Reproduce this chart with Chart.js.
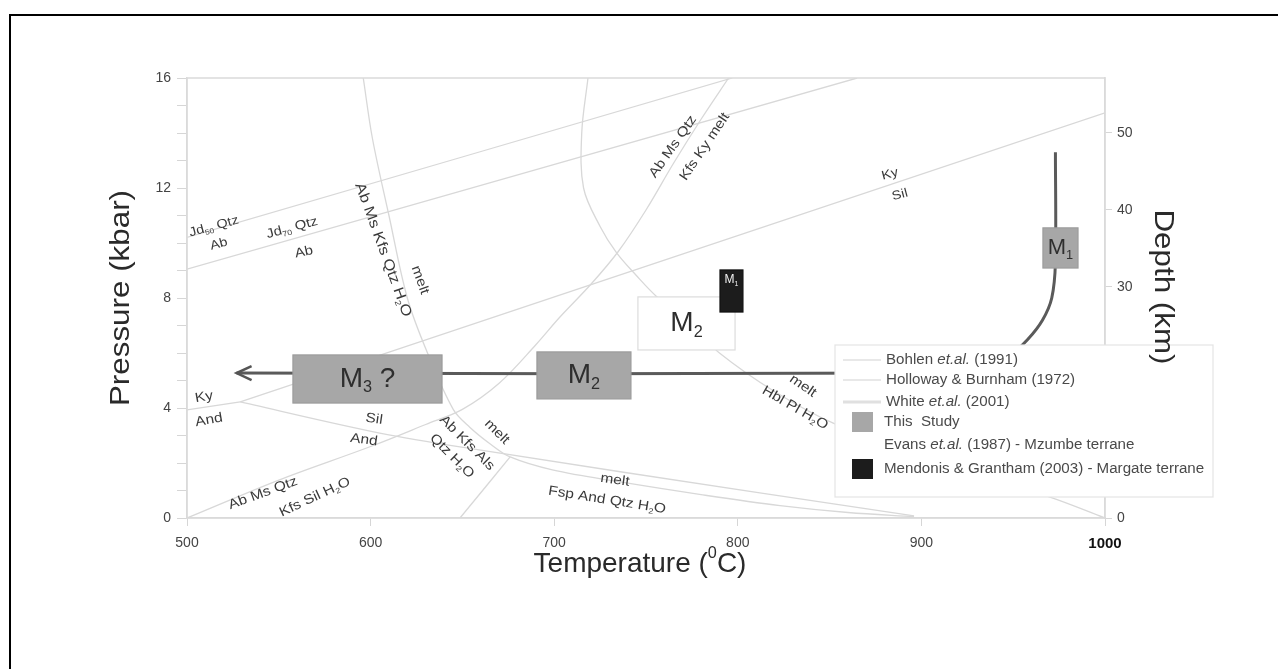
<!DOCTYPE html>
<html>
<head>
<meta charset="utf-8">
<title>P-T path</title>
<script src="https://cdn.jsdelivr.net/npm/chart.js@4.4.1/dist/chart.umd.min.js"></script>
<style>
  html, body { margin: 0; padding: 0; background: #fff; overflow: hidden; }
  canvas { display: block; }
</style>
</head>
<body>
<canvas id="ptChart" width="1278" height="669"></canvas>
<script>
//// axes
let tempTicks = [500, 600, 700, 800, 900, 1000];
let pressureTicks = [0, 1, 2, 3, 4, 5, 6, 7, 8, 9, 10, 11, 12, 13, 14, 15, 16];
let pressureLabels = [0, 4, 8, 12, 16];
let depthTicks = [0, 10, 20, 30, 40, 50];
let kmPerKbar = 3.571;

//// reaction curves (T in C, P in kbar)
let jd50T = [500, 797];
let jd50P = [10.2, 16];
let jd70T = [500, 865];
let jd70P = [9.05, 16];
let kyAndT = [500, 529];
let kyAndP = [3.93, 4.22];
let kySilT = [529, 1000];
let kySilP = [4.22, 14.73];
let silAndT = [529, 605, 660, 812, 896];
let silAndP = [4.22, 3.09, 2.47, 0.91, 0.08];
let meltT = [596, 601, 610, 620, 631, 645, 654, 665, 676, 699, 736, 780, 823, 860, 896];
let meltP = [16, 13.8, 11.0, 8.0, 6.0, 3.95, 3.3, 2.7, 2.22, 1.75, 1.31, 0.85, 0.45, 0.2, 0.05];
let muscT = [500, 550, 600, 630, 650, 670, 690, 703, 720, 735, 750, 765, 780, 795];
let muscP = [0, 1.38, 2.6, 3.4, 3.95, 4.9, 6.3, 7.3, 8.5, 9.7, 11.2, 12.9, 14.5, 16];
let alsMeltT = [648.7, 676];
let alsMeltP = [0, 2.22];
let hblT = [718.4, 715, 716, 725, 734, 745, 756, 775, 790, 820, 852, 910, 970, 1000];
let hblP = [16, 14, 12.0, 10.6, 9.64, 8.8, 8.04, 7.0, 6.0, 4.6, 3.45, 2.0, 0.76, 0];

//// P-T path of this study
let pathT = [527, 900, 935, 948, 958, 966, 971, 973, 973];
let pathP = [5.27, 5.27, 5.5, 5.9, 6.5, 7.2, 8.0, 9.3, 13.3];

//// metamorphic boxes
let boxNames = ['M_{3} ?', 'M_{2}', 'M_{1}', 'M_{2}', 'M_{1}'];
let boxTmin = [557.7, 690.6, 966.2, 745.6, 790.3];
let boxTmax = [638.9, 741.8, 985.3, 798.5, 802.8];
let boxPmin = [4.18, 4.33, 9.09, 6.11, 7.49];
let boxPmax = [5.93, 6.04, 10.55, 8.04, 9.02];
let boxSource = [0, 0, 0, 1, 2];

//// legend
let lineSources = ['Bohlen ~{et.al.} (1991)', 'Holloway & Burnham (1972)', 'White ~{et.al.} (2001)'];
let boxSources = ['This  Study', 'Evans ~{et.al.} (1987) - Mzumbe terrane', 'Mendonis & Grantham (2003) - Margate terrane'];
let boxFill = ['#a7a7a7', '#ffffff', '#1c1c1c'];
let boxEdge = ['#9c9c9c', '#dcdcdc', '#111111'];
let boxText = ['#2e2e2e', '#2e2e2e', '#f0f0f0'];
let boxFont = [28, 28, 22, 28, 12];

//// reaction labels: text, T, P, angle, size
let phaseLabels = [
    ['Jd_{50} Qtz', 514.7, 10.6, -15, 12.5],
    ['Ab', 517.4, 9.96, -15, 12.5],
    ['Jd_{70} Qtz', 557.2, 10.55, -15, 13],
    ['Ab', 563.7, 9.67, -12, 13],
    ['Ab Ms Kfs Qtz H_{2}O', 606.8, 9.75, 70, 14.5],
    ['melt', 626.9, 8.65, 70, 13.5],
    ['Ab Ms Qtz', 764.7, 13.5, -55, 13.5],
    ['Kfs Ky melt', 782, 13.5, -56, 13.5],
    ['Ky', 882.9, 12.5, -15, 12.5],
    ['Sil', 888.3, 11.75, -15, 12.5],
    ['Ky', 509.3, 4.4, -10, 13.5],
    ['And', 512, 3.56, -10, 13.5],
    ['Sil', 601.9, 3.6, 8, 13.5],
    ['And', 596.4, 2.84, 8, 13.5],
    ['Ab Ms Qtz', 541.4, 0.9, -20, 13.5],
    ['Kfs Sil H_{2}O', 569.7, 0.76, -25, 13.5],
    ['Ab Kfs Als', 652.5, 2.73, 45, 13.5],
    ['Qtz H_{2}O', 644.3, 2.25, 45, 13.5],
    ['melt', 668.8, 3.13, 45, 13.5],
    ['melt', 733.1, 1.38, 8, 13.5],
    ['Fsp And Qtz H_{2}O', 728.8, 0.65, 9, 13.5],
    ['melt', 835.5, 4.8, 35, 13.5],
    ['Hbl Pl H_{2}O', 831.2, 4.0, 30, 13.5]
];

let fontFam = '"Liberation Sans", Arial, sans-serif';
Chart.defaults.font.family = fontFam;

function toPoints(xs, ys) {
    return xs.map((v, i) => ({ x: v, y: ys[i] }));
}

function curve(xs, ys) {
    return {
        data: toPoints(xs, ys),
        showLine: true,
        borderColor: '#d8d8d8',
        borderWidth: 1.3,
        pointRadius: 0,
        tension: 0.35,
        fill: false
    };
}

function pathDataset() {
    return {
        data: toPoints(pathT, pathP),
        showLine: true,
        borderColor: '#5a5a5a',
        borderWidth: 3,
        pointRadius: 0,
        tension: 0.3,
        fill: false
    };
}

//// text with _{sub} ^{sup} ~{italic}
function richParts(str) {
    let parts = [];
    let re = /([_^~])\{([^}]*)\}/g;
    let last = 0, m;
    while ((m = re.exec(str))) {
        if (m.index > last) parts.push({ t: str.slice(last, m.index), k: '' });
        parts.push({ t: m[2], k: m[1] });
        last = re.lastIndex;
    }
    if (last < str.length) parts.push({ t: str.slice(last), k: '' });
    return parts;
}

function drawRich(ctx, str, x, y, size, opts) {
    opts = opts || {};
    let parts = richParts(str);
    let fontFor = function(p) {
        let s = (p.k === '_' || p.k === '^') ? size * 0.58 : size;
        let style = p.k === '~' ? 'italic ' : '';
        return style + (opts.weight || 'normal') + ' ' + s + 'px ' + fontFam;
    };
    let total = 0;
    parts.forEach(p => { ctx.font = fontFor(p); p.w = ctx.measureText(p.t).width; total += p.w; });
    ctx.save();
    ctx.translate(x, y);
    ctx.rotate((opts.angle || 0) * Math.PI / 180);
    if (opts.stretch) ctx.scale(opts.stretch, 1);
    ctx.fillStyle = opts.color || '#363636';
    ctx.textBaseline = 'middle';
    ctx.textAlign = 'left';
    let cx = opts.align === 'left' ? 0 : -total / 2;
    parts.forEach(p => {
        ctx.font = fontFor(p);
        let dy = p.k === '_' ? size * 0.32 : (p.k === '^' ? -size * 0.36 : 0);
        ctx.fillText(p.t, cx, dy);
        cx += p.w;
    });
    ctx.restore();
}

let extras = {
    id: 'extras',
    beforeDraw(chart) {
        let ctx = chart.ctx;
        ctx.save();
        ctx.fillStyle = '#fff';
        ctx.fillRect(0, 0, chart.width, chart.height);
        ctx.strokeStyle = '#000';
        ctx.lineWidth = 2;
        ctx.beginPath();
        ctx.moveTo(10, chart.height + 5);
        ctx.lineTo(10, 15);
        ctx.lineTo(chart.width + 5, 15);
        ctx.stroke();
        ctx.restore();
    },
    afterDatasetsDraw(chart) {
        let ctx = chart.ctx;
        let xs = chart.scales.x, ys = chart.scales.y;
        let area = chart.chartArea;

        // plot frame
        ctx.save();
        ctx.strokeStyle = '#dadada';
        ctx.lineWidth = 1.5;
        ctx.strokeRect(area.left, area.top, area.right - area.left, area.bottom - area.top);

        // arrow head at start of path
        let tx = xs.getPixelForValue(pathT[0]), ty = ys.getPixelForValue(pathP[0]);
        ctx.strokeStyle = '#555';
        ctx.lineWidth = 2.5;
        ctx.beginPath();
        ctx.moveTo(tx + 15, ty - 7);
        ctx.lineTo(tx, ty);
        ctx.lineTo(tx + 15, ty + 7);
        ctx.stroke();

        // boxes
        for (let i = 0; i < boxNames.length; i++) {
            let x0 = xs.getPixelForValue(boxTmin[i]), x1 = xs.getPixelForValue(boxTmax[i]);
            let y0 = ys.getPixelForValue(boxPmax[i]), y1 = ys.getPixelForValue(boxPmin[i]);
            let s = boxSource[i];
            ctx.fillStyle = boxFill[s];
            ctx.fillRect(x0, y0, x1 - x0, y1 - y0);
            ctx.strokeStyle = boxEdge[s];
            ctx.lineWidth = 1.2;
            ctx.strokeRect(x0, y0, x1 - x0, y1 - y0);
            let cy = i === 4 ? y0 + 10 : (y0 + y1) / 2;
            drawRich(ctx, boxNames[i], (x0 + x1) / 2, cy, boxFont[i], { color: boxText[s] });
        }

        // reaction labels
        phaseLabels.forEach(l => {
            drawRich(ctx, l[0], xs.getPixelForValue(l[1]), ys.getPixelForValue(l[2]), l[4],
                { angle: l[3], color: '#3a3a3a', stretch: 1.15 });
        });

        // legend
        let lx = area.right - 270, ly = area.top + 267;
        ctx.fillStyle = '#fff';
        ctx.fillRect(lx, ly, 378, 152);
        ctx.strokeStyle = '#e4e4e4';
        ctx.lineWidth = 1.2;
        ctx.strokeRect(lx, ly, 378, 152);
        let lineW = [1.5, 1.5, 3];
        let lineY = [15, 35, 57];
        lineSources.forEach((name, i) => {
            ctx.strokeStyle = '#e0e0e0';
            ctx.lineWidth = lineW[i];
            ctx.beginPath();
            ctx.moveTo(lx + 8, ly + lineY[i]);
            ctx.lineTo(lx + 46, ly + lineY[i]);
            ctx.stroke();
            drawRich(ctx, name, lx + 51, ly + lineY[i], 14, { align: 'left', color: '#4a4a4a', stretch: 1.08 });
        });
        let boxY = [77, 100, 124];
        boxSources.forEach((name, i) => {
            ctx.fillStyle = boxFill[i];
            ctx.fillRect(lx + 17, ly + boxY[i] - 10, 21, 20);
            drawRich(ctx, name, lx + 49, ly + boxY[i], 14, { align: 'left', color: '#4a4a4a', stretch: 1.08 });
        });

        // axis titles
        let midY = (area.top + area.bottom) / 2;
        drawRich(ctx, 'Pressure (kbar)', 121, midY, 28, { angle: -90, stretch: 1.12, color: '#2a2a2a' });
        drawRich(ctx, 'Depth (km)', 1163, 287, 28, { angle: 90, stretch: 1.12, color: '#2a2a2a' });
        drawRich(ctx, 'Temperature (^{0}C)', 640, 564, 28, { color: '#2a2a2a' });
        ctx.restore();
    }
};

let datasets = [
    pathDataset(),
    curve(jd50T, jd50P),
    curve(jd70T, jd70P),
    curve(kyAndT, kyAndP),
    curve(kySilT, kySilP),
    curve(silAndT, silAndP),
    curve(meltT, meltP),
    curve(muscT, muscP),
    curve(alsMeltT, alsMeltP),
    curve(hblT, hblP)
];

let tickGrey = '#444';

new Chart(document.getElementById('ptChart').getContext('2d'), {
    type: 'scatter',
    data: { datasets: datasets },
    options: {
        responsive: false,
        animation: false,
        layout: { padding: { top: 78, left: 0, right: 0, bottom: 0 } },
        plugins: { legend: { display: false }, tooltip: { enabled: false } },
        scales: {
            x: {
                type: 'linear',
                min: 500,
                max: 1000,
                afterBuildTicks: s => { s.ticks = tempTicks.map(v => ({ value: v })); },
                afterFit: s => { s.height = 151; },
                ticks: {
                    maxRotation: 0,
                    padding: 9,
                    callback: v => String(v),
                    color: c => (c.tick && c.tick.value === 1000) ? '#111' : tickGrey,
                    font: c => (c.tick && c.tick.value === 1000) ? { size: 15, weight: 'bold' } : { size: 14 }
                },
                grid: { drawOnChartArea: false, tickLength: 8, color: '#d6d6d6' },
                border: { color: '#dadada', width: 1.5 }
            },
            y: {
                type: 'linear',
                position: 'left',
                min: 0,
                max: 16,
                afterBuildTicks: s => { s.ticks = pressureTicks.map(v => ({ value: v })); },
                afterFit: s => { s.width = 187; },
                ticks: {
                    autoSkip: false,
                    padding: 6,
                    color: tickGrey,
                    font: { size: 14 },
                    callback: v => pressureLabels.includes(v) ? String(v) : ''
                },
                grid: { drawOnChartArea: false, tickLength: 10, color: '#d6d6d6' },
                border: { color: '#dadada', width: 1.5 }
            },
            y2: {
                type: 'linear',
                position: 'right',
                min: 0,
                max: 16 * kmPerKbar,
                afterBuildTicks: s => { s.ticks = depthTicks.map(v => ({ value: v })); },
                afterFit: s => { s.width = 173; },
                ticks: { autoSkip: false, padding: 5, color: tickGrey, font: { size: 14 }, callback: v => String(v) },
                grid: { drawOnChartArea: false, tickLength: 7, color: '#d6d6d6' },
                border: { color: '#dadada', width: 1.5 }
            }
        }
    },
    plugins: [extras]
});
</script>
</body>
</html>
